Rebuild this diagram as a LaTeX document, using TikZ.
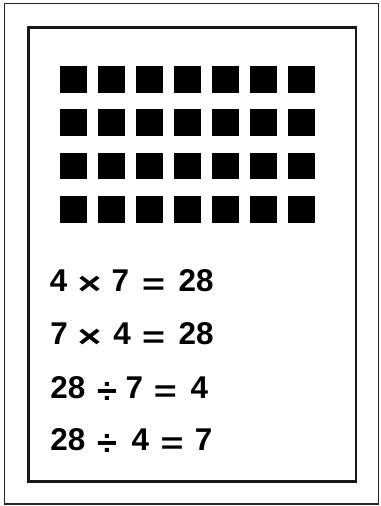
\documentclass[tikz,border=0pt]{standalone}
\usepackage{fontspec}
\usepackage{graphicx}
\setmainfont{Liberation Sans}
\begin{document}
\begin{tikzpicture}[x=0.75pt,y=-0.75pt,
  eq/.style={anchor=base west,inner sep=0pt,font=\bfseries\fontsize{23.6pt}{28pt}\selectfont}]
\useasboundingbox (0,0) rectangle (380,506);
\draw[line width=1.2pt,black!85] (4.5,3.5) rectangle (378.5,504);
\draw[line width=1.8pt,black!90] (28.5,27.5) rectangle (356,481.5);
\foreach \r in {0,...,3}{
  \foreach \c in {0,...,6}{
    \fill (60+\c*38,65.7+\r*43.4) rectangle ++(26.7,26.9);
  }
}
\newcommand{\tk}[1]{\makebox[0pt]{#1}}
\newcommand{\tms}{\tk{\raisebox{-2.3pt}{\scalebox{1.3}[1.0]{×}}}}
\newcommand{\dvd}{\tk{\raisebox{-3.3pt}{\scalebox{1.15}[1.15]{÷}}}}
\newcommand{\eqs}{\tk{\raisebox{-2pt}{\scalebox{1.25}[0.96]{=}}}}
\node[eq] (e1) at (58.3,291.7) {\tk{4}\hspace{23.2pt}\tms\hspace{23.1pt}\tk{7}\hspace{25pt}\eqs\hspace{31.9pt}\tk{28}};
\node[eq] (e2) at (58.8,344.7) {\tk{7}\hspace{22.8pt}\tms\hspace{24.4pt}\tk{4}\hspace{23.7pt}\eqs\hspace{31.9pt}\tk{28}};
\node[eq] (e3) at (67.5,398.7) {\tk{28}\hspace{29.4pt}\dvd\hspace{20.6pt}\tk{7}\hspace{23.1pt}\eqs\hspace{25.6pt}\tk{4}};
\node[eq] (e4) at (67.5,450.7) {\tk{28}\hspace{29.4pt}\dvd\hspace{25pt}\tk{4}\hspace{23.8pt}\eqs\hspace{23.7pt}\tk{7}};
\end{tikzpicture}
\end{document}
